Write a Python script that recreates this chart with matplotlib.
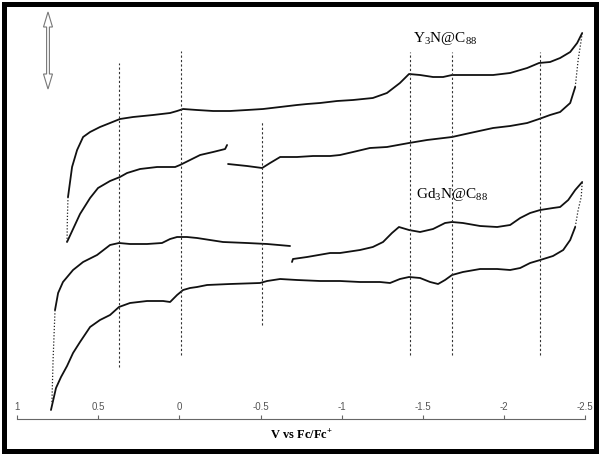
import matplotlib.pyplot as plt
from matplotlib.patches import Polygon, Rectangle

plt.rcParams['axes.unicode_minus'] = False
plt.rcParams['mathtext.fontset'] = 'custom'
plt.rcParams['mathtext.rm'] = 'Liberation Serif'
plt.rcParams['mathtext.default'] = 'regular'

# potential (V vs Fc/Fc+) and current (arbitrary units)
# Y3N@C88 - upper trace
y3n_top_v = [0.686, 0.661, 0.630, 0.593, 0.550, 0.489, 0.427, 0.366, 0.285, 0.162,
             0.057, 0.014, -0.023, -0.109, -0.208, -0.312, -0.417, -0.516, -0.621, -0.725,
             -0.787, -0.867, -0.972, -1.070, -1.192, -1.279, -1.359, -1.415, -1.483, -1.563,
             -1.625, -1.680, -1.791, -1.933, -2.038, -2.143, -2.216, -2.284, -2.346, -2.408,
             -2.451, -2.482]
y3n_top_i = [22.2, 25.2, 26.9, 28.2, 28.7, 29.2, 29.6, 30.0, 30.2, 30.4,
             30.6, 30.8, 31.0, 30.9, 30.8, 30.8, 30.9, 31.0, 31.2, 31.4,
             31.5, 31.6, 31.8, 31.9, 32.1, 32.6, 33.6, 34.5, 34.4, 34.2,
             34.2, 34.4, 34.4, 34.4, 34.6, 35.1, 35.6, 35.7, 36.1, 36.7,
             37.6, 38.6]
# Y3N@C88 - lower trace, two pieces
y3n_low1_v = [0.692, 0.612, 0.550, 0.501, 0.427, 0.366, 0.322, 0.242, 0.137, 0.026,
              -0.004, -0.066, -0.128, -0.208, -0.282, -0.294]
y3n_low1_i = [17.7, 20.5, 22.1, 23.1, 23.8, 24.2, 24.6, 25.0, 25.2, 25.2,
              25.4, 25.9, 26.4, 26.7, 27.0, 27.4]
y3n_low2_v = [-0.300, -0.417, -0.510, -0.559, -0.621, -0.725, -0.824, -0.929, -0.990, -1.070,
              -1.174, -1.279, -1.415, -1.526, -1.680, -1.791, -1.933, -2.038, -2.143, -2.216,
              -2.284, -2.346, -2.408, -2.439]
y3n_low2_i = [25.5, 25.3, 25.1, 25.6, 26.2, 26.2, 26.3, 26.3, 26.4, 26.7,
              27.1, 27.2, 27.6, 27.9, 28.2, 28.6, 29.1, 29.3, 29.6, 30.0,
              30.4, 30.7, 31.6, 33.2]
# sparse (dotted) steep ends
y3n_left_v = [0.692, 0.690, 0.686]
y3n_left_i = [17.7, 20.0, 22.2]
y3n_right_v = [-2.439, -2.457, -2.476, -2.482]
y3n_right_i = [33.2, 35.9, 37.9, 38.6]

# Gd3N@C88 - upper trace, two pieces
gd_top1_v = [0.766, 0.747, 0.717, 0.655, 0.593, 0.507, 0.427, 0.372, 0.304, 0.199,
             0.107, 0.057, 0.014, -0.047, -0.109, -0.269, -0.417, -0.541, -0.682]
gd_top1_i = [10.9, 12.6, 13.7, 14.9, 15.7, 16.4, 17.4, 17.6, 17.5, 17.5,
             17.6, 18.0, 18.2, 18.2, 18.1, 17.7, 17.6, 17.5, 17.3]
gd_top2_v = [-0.694, -0.700, -0.787, -0.929, -0.990, -1.113, -1.192, -1.255, -1.310, -1.353,
             -1.415, -1.483, -1.563, -1.637, -1.680, -1.747, -1.853, -1.958, -2.038, -2.100,
             -2.161, -2.223, -2.302, -2.346, -2.396, -2.439, -2.482]
gd_top2_i = [15.7, 16.0, 16.2, 16.6, 16.6, 16.9, 17.2, 17.7, 18.6, 19.2,
             18.9, 18.7, 19.0, 19.6, 19.7, 19.6, 19.3, 19.2, 19.4, 20.1,
             20.6, 20.9, 21.1, 21.2, 21.9, 22.9, 23.7]
# Gd3N@C88 - lower trace
gd_low_v = [0.791, 0.760, 0.729, 0.692, 0.655, 0.612, 0.550, 0.489, 0.427, 0.372,
            0.304, 0.199, 0.100, 0.057, 0.014, -0.023, -0.066, -0.109, -0.171, -0.312,
            -0.497, -0.541, -0.621, -0.725, -0.867, -0.990, -1.113, -1.236, -1.298, -1.359,
            -1.415, -1.483, -1.545, -1.594, -1.637, -1.680, -1.747, -1.853, -1.958, -2.038,
            -2.100, -2.161, -2.223, -2.302, -2.365, -2.408, -2.439]
gd_low_i = [0.9, 3.1, 4.2, 5.3, 6.6, 7.7, 9.2, 9.9, 10.4, 11.2,
            11.6, 11.8, 11.8, 11.7, 12.4, 12.9, 13.1, 13.2, 13.4, 13.5,
            13.6, 13.8, 14.0, 13.9, 13.8, 13.8, 13.7, 13.7, 13.6, 14.0,
            14.2, 14.1, 13.7, 13.5, 13.9, 14.4, 14.7, 15.0, 15.0, 14.9,
            15.1, 15.6, 15.9, 16.3, 16.9, 17.9, 19.2]
gd_left_v = [0.785, 0.778, 0.766]
gd_left_i = [1.7, 5.9, 10.9]
gd_right_v = [-2.439, -2.457, -2.476, -2.482]
gd_right_i = [19.2, 20.9, 22.2, 23.7]

# dashed guide lines at the redox potentials
dash_v = [0.37, -0.01, -0.51, -1.42, -1.68, -2.22]
dash_top = [35.6, 36.8, 29.7, 36.7, 36.7, 36.7]
dash_bot = [5.2, 6.4, 9.4, 6.4, 6.4, 6.4]

tick_vals = [1, 0.5, 0, -0.5, -1, -1.5, -2, -2.5]
tick_labels = ['1', '0.5', '0', '-0.5', '-1', '-1.5', '-2', '-2.5']

W, H = 602, 457
fig = plt.figure(figsize=(W / 100, H / 100), dpi=100)
ax = fig.add_axes([0, 0, 1, 1])
ax.set_xlim(1.105, -2.604)
ax.set_ylim(-3.8, 41.9)

solid = dict(color='#111111', lw=1.3, solid_capstyle='round', solid_joinstyle='round')
dotted = dict(color='#222222', lw=0.9, linestyle=(0, (1, 1.5)))

ax.plot(y3n_top_v, y3n_top_i, **solid)
ax.plot(y3n_low1_v, y3n_low1_i, **solid)
ax.plot(y3n_low2_v, y3n_low2_i, **solid)
ax.plot(y3n_left_v, y3n_left_i, **dotted)
ax.plot(y3n_right_v, y3n_right_i, **dotted)
ax.plot(gd_top1_v, gd_top1_i, **solid)
ax.plot(gd_top2_v, gd_top2_i, **solid)
ax.plot(gd_low_v, gd_low_i, **solid)
ax.plot(gd_left_v, gd_left_i, **dotted)
ax.plot(gd_right_v, gd_right_i, **dotted)

ax.vlines(dash_v, dash_bot, dash_top, colors='#333333', lw=0.8, linestyles=(0, (2, 2)))

ax.text(-1.637, 37.7, 'Y$_3$N@C$_{88}$', ha='center', va='baseline',
        fontsize=11, family='Liberation Serif')
ax.text(-1.680, 22.1, 'Gd$_3$N@C$_{88}$', ha='center', va='baseline',
        fontsize=11, family='Liberation Serif')

# x axis drawn at zero current, labels above the line
for side in ['top', 'right', 'left']:
    ax.spines[side].set_visible(False)
ax.spines['bottom'].set_position(('data', 0))
ax.spines['bottom'].set_bounds(-2.5, 1)
ax.spines['bottom'].set_color('#666666')
ax.spines['bottom'].set_linewidth(0.8)
ax.set_xticks(tick_vals)
ax.set_xticklabels(tick_labels)
ax.set_yticks([])
ax.tick_params(axis='x', direction='in', length=3, width=0.8, color='#666666',
               labelsize=7, labelcolor='#555555', pad=-12)
for lbl in ax.get_xticklabels():
    lbl.set_family('Liberation Sans')
ax.set_xlabel('V vs Fc/Fc$^{+}$', fontsize=9, fontweight='bold',
              family='Liberation Serif', labelpad=7)

# hollow double arrow (current scale marker), in pixels
cx, top, bot, hw, hl, sw = 48, 12, 89, 4.5, 15, 1.4
pts = [(cx, top), (cx + hw, top + hl), (cx + sw, top + hl), (cx + sw, bot - hl),
       (cx + hw, bot - hl), (cx, bot), (cx - hw, bot - hl), (cx - sw, bot - hl),
       (cx - sw, top + hl), (cx - hw, top + hl)]
fig.patches.append(Polygon([(x / W, 1 - y / H) for x, y in pts], closed=True,
                           transform=fig.transFigure, fc='white', ec='#777777', lw=0.8))

# thick frame round the picture
fig.patches.append(Rectangle((3.5 / W, 1 - 450.5 / H), 592 / W, 447 / H,
                             transform=fig.transFigure, fill=False, ec='black', lw=3.6))

fig.savefig('out.png', dpi=100)
